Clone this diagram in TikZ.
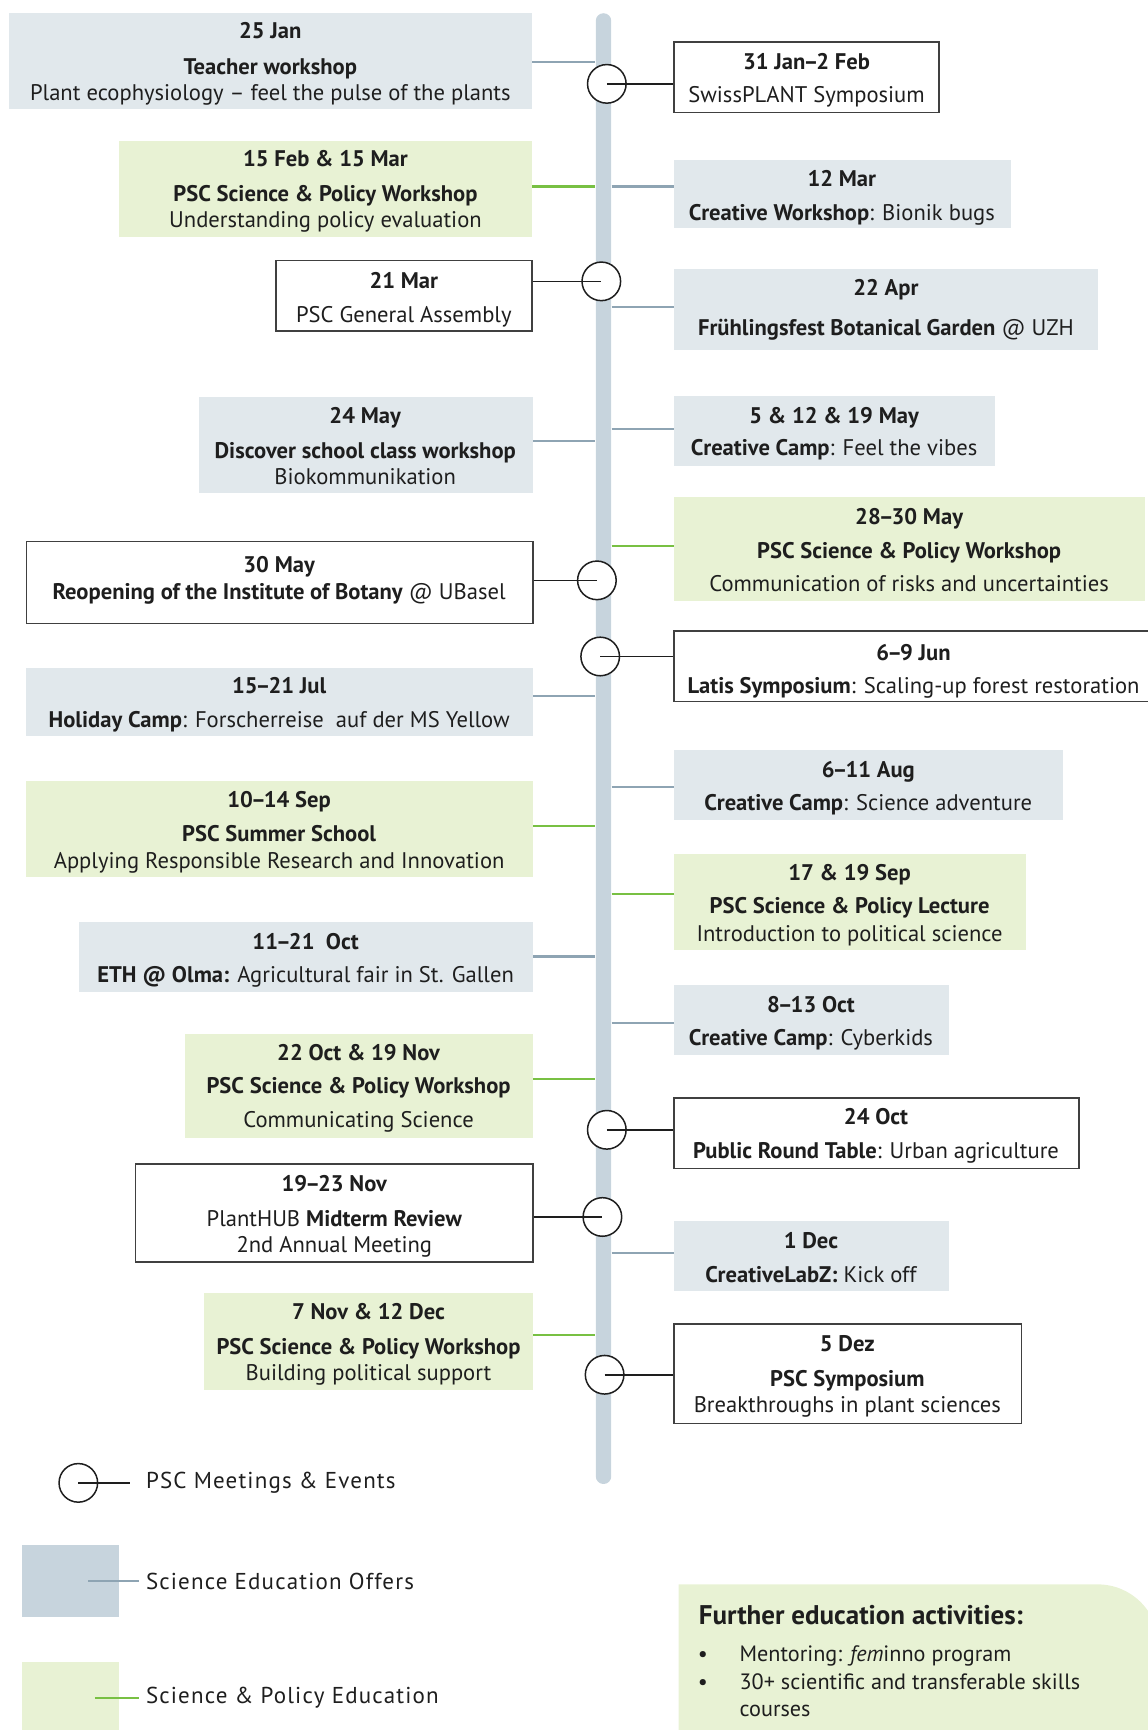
\documentclass[tikz,border=0pt]{standalone}
\usepackage{fontspec}
\setmainfont{PT Sans}
\usetikzlibrary{fit}
\definecolor{bfill}{HTML}{E1E8EC}
\definecolor{gfill}{HTML}{E8F2D4}
\definecolor{barc}{HTML}{C7D4DD}
\definecolor{bline}{HTML}{8EA4B3}
\definecolor{gline}{HTML}{78C043}
\definecolor{ink}{HTML}{1E1E1E}
\newcommand{\nd}{\kern-0.09em–\kern-0.09em}
\begin{document}
\begin{tikzpicture}[x=0.55192pt,y=-0.55192pt,
  bluebox/.style={fill=bfill, inner sep=0pt},
  greenbox/.style={fill=gfill, inner sep=0pt},
  whitebox/.style={draw=ink!85, line width=0.75pt, fill=white, inner sep=0pt},
  tl/.style={anchor=base, yshift=-4pt, inner sep=0pt, text=ink, font=\fontsize{11.3}{13}\selectfont},
  tb/.style={tl, font=\fontsize{11.3}{13}\selectfont\bfseries},
  ev/.style={circle, draw=ink, line width=0.75pt, fill=white, minimum size=19.3pt, inner sep=0pt},
  kline/.style={draw=ink, line width=0.8pt},
  bl/.style={draw=bline, line width=1.1pt},
  gl/.style={draw=gline, line width=1.1pt},
  legtxt/.style={anchor=west, inner sep=0pt, text=ink, font=\fontsize{11.5}{14}\selectfont\addfontfeature{LetterSpace=5}},
  ftxt/.style={anchor=base west, inner sep=0pt, text=ink, font=\fontsize{11.1}{13}\selectfont}
]
\useasboundingbox (0,0) rectangle (1040,1568);

% timeline bar
\node[fit={(540,12) (554,1345)}, fill=barc, rounded corners=3.8pt, inner sep=0pt] (bar) {};

% ---------- left boxes ----------
\node[bluebox, fit={(8,12) (482,99)}] (b1) {};
\node[tb] (b1a) at (245,28) {25 Jan};
\node[tb] (b1b) at (245,60) {Teacher workshop};
\node[tl] (b1c) at (245,84) {Plant ecophysiology – feel the pulse of the plants};
\draw[bl] (b1.east |- 0,56) -- (bar.west |- 0,56);

\node[greenbox, fit={(108,128) (482,215)}] (b2) {};
\node[tb] (b2a) at (295,144) {15 Feb \& 15 Mar};
\node[tb] (b2b) at (295,175) {PSC Science \& Policy Workshop};
\node[tl] (b2c) at (295,199) {Understanding policy evaluation};
\draw[gl] (b2.east |- 0,169) -- (bar.west |- 0,169);

\node[whitebox, fit={(250,236) (482,300)}] (b3) {};
\node[tb] (b3a) at (366,254) {21 Mar};
\node[tl] (b3b) at (366,285) {PSC General Assembly};

\node[bluebox, fit={(180,360) (483,447)}] (b7) {};
\node[tb] (b7a) at (331,377) {24 May};
\node[tb] (b7b) at (331,408) {Discover school class workshop};
\node[tl] (b7c) at (331,432) {Biokommunikation};
\draw[bl] (b7.east |- 0,400) -- (bar.west |- 0,400);

\node[whitebox, fit={(24,491) (483,565)}] (b10) {};
\node[tb] (b10a) at (253,512) {30 May};
\node[tl] (b10b) at (253,536) {\textbf{Reopening of the Institute of Botany} @ UBasel};

\node[bluebox, fit={(24,605) (483,667)}] (b12) {};
\node[tb] (b12a) at (253,621) {15\nd21 Jul};
\node[tl] (b12b) at (253,652) {\textbf{Holiday Camp}: Forscherreise\ \ auf der MS Yellow};
\draw[bl] (b12.east |- 0,631) -- (bar.west |- 0,631);

\node[greenbox, fit={(24,708) (483,795)}] (b14) {};
\node[tb] (b14a) at (253,725) {10\nd14 Sep};
\node[tb] (b14b) at (253,755) {PSC Summer School};
\node[tl] (b14c) at (253,780) {Applying Responsible Research and Innovation};
\draw[gl] (b14.east |- 0,749) -- (bar.west |- 0,749);

\node[bluebox, fit={(72,836) (483,899)}] (b16) {};
\node[tb] (b16a) at (277,853) {11\nd21\ \ Oct};
\node[tl] (b16b) at (277,883) {\textbf{ETH @ Olma:} Agricultural fair in St. Gallen};
\draw[bl] (b16.east |- 0,867) -- (bar.west |- 0,867);

\node[greenbox, fit={(168,937) (483,1031)}] (b18) {};
\node[tb] (b18a) at (325,954) {22 Oct \& 19 Nov};
\node[tb] (b18b) at (325,984) {PSC Science \& Policy Workshop};
\node[tl] (b18c) at (325,1015) {Communicating Science};
\draw[gl] (b18.east |- 0,978) -- (bar.west |- 0,978);

\node[whitebox, fit={(123,1055) (483,1144)}] (b20) {};
\node[tb] (b20a) at (303,1073) {19\nd23 Nov};
\node[tl] (b20b) at (303,1104) {PlantHUB \textbf{Midterm Review}};
\node[tl] (b20c) at (303,1128) {2nd Annual Meeting};

\node[greenbox, fit={(185,1172) (483,1260)}] (b22) {};
\node[tb] (b22a) at (334,1189) {7 Nov \& 12 Dec};
\node[tb] (b22b) at (334,1220) {PSC Science \& Policy Workshop};
\node[tl] (b22c) at (334,1244) {Building political support};
\draw[gl] (b22.east |- 0,1210) -- (bar.west |- 0,1210);

% ---------- right boxes ----------
\node[whitebox, fit={(611,38) (851,102)}] (b4) {};
\node[tb] (b4a) at (731,56) {31 Jan\nd2 Feb};
\node[tl] (b4b) at (731,86) {SwissPLANT Symposium};

\node[bluebox, fit={(611,145) (916,207)}] (b5) {};
\node[tb] (b5a) at (763,162) {12 Mar};
\node[tl] (b5b) at (763,193) {\textbf{Creative Workshop}: Bionik bugs};
\draw[bl] (bar.east |- 0,169) -- (b5.west |- 0,169);

\node[bluebox, fit={(611,244) (995,317)}] (b6) {};
\node[tb] (b6a) at (803,261) {22 Apr};
\node[tl] (b6b) at (803,297) {\textbf{Frühlingsfest Botanical Garden} @ UZH};
\draw[bl] (bar.east |- 0,278) -- (b6.west |- 0,278);

\node[bluebox, fit={(611,359) (902,422)}] (b8) {};
\node[tb] (b8a) at (756,377) {5 \& 12 \& 19 May};
\node[tl] (b8b) at (756,406) {\textbf{Creative Camp}: Feel the vibes};
\draw[bl] (bar.east |- 0,389) -- (b8.west |- 0,389);

\node[greenbox, fit={(611,450) (1038,545)}] (b9) {};
\node[tb] (b9a) at (824,468) {28\nd30 May};
\node[tb] (b9b) at (824,499) {PSC Science \& Policy Workshop};
\node[tl] (b9c) at (824,529) {Communication of risks and uncertainties};
\draw[gl] (bar.east |- 0,495) -- (b9.west |- 0,495);

\node[whitebox, fit={(611,572) (1046,636)}] (b11) {};
\node[tb] (b11a) at (828,591) {6\nd9 Jun};
\node[tl] (b11b) at (828,621) {\textbf{Latis Symposium}: Scaling-up forest restoration};

\node[bluebox, fit={(611,680) (963,743)}] (b13) {};
\node[tb] (b13a) at (787,697) {6\nd11 Aug};
\node[tl] (b13b) at (787,727) {\textbf{Creative Camp}: Science adventure};
\draw[bl] (bar.east |- 0,713) -- (b13.west |- 0,713);

\node[greenbox, fit={(611,774) (930,861)}] (b15) {};
\node[tb] (b15a) at (770,791) {17 \& 19 Sep};
\node[tb] (b15b) at (770,821) {PSC Science \& Policy Lecture};
\node[tl] (b15c) at (770,846) {Introduction to political science};
\draw[gl] (bar.east |- 0,810) -- (b15.west |- 0,810);

\node[bluebox, fit={(611,893) (860,956)}] (b17) {};
\node[tb] (b17a) at (735,910) {8\nd13 Oct};
\node[tl] (b17b) at (735,940) {\textbf{Creative Camp}: Cyberkids};
\draw[bl] (bar.east |- 0,927) -- (b17.west |- 0,927);

\node[whitebox, fit={(611,995) (978,1059)}] (b19) {};
\node[tb] (b19a) at (794,1012) {24 Oct};
\node[tl] (b19b) at (794,1043) {\textbf{Public Round Table}: Urban agriculture};

\node[bluebox, fit={(611,1107) (860,1170)}] (b21) {};
\node[tb] (b21a) at (735,1124) {1 Dec};
\node[tl] (b21b) at (735,1155) {\textbf{CreativeLabZ:} Kick off};
\draw[bl] (bar.east |- 0,1136) -- (b21.west |- 0,1136);

\node[whitebox, fit={(611,1200) (926,1290)}] (b23) {};
\node[tb] (b23a) at (768,1218) {5 Dez};
\node[tb] (b23b) at (768,1249) {PSC Symposium};
\node[tl] (b23c) at (768,1273) {Breakthroughs in plant sciences};

% ---------- event circles ----------
\node[ev] (c1) at (550,76) {};
\draw[kline] (c1.center) -- (b4.west |- c1.center);
\node[ev] (c3) at (545,255) {};
\draw[kline] (b3.east |- c3.center) -- (c3.center);
\node[ev] (c10) at (541,526) {};
\draw[kline] (b10.east |- c10.center) -- (c10.center);
\node[ev] (c11) at (544,595) {};
\draw[kline] (c11.center) -- (b11.west |- c11.center);
\node[ev] (c19) at (550,1024) {};
\draw[kline] (c19.center) -- (b19.west |- c19.center);
\node[ev] (c20) at (546,1103) {};
\draw[kline] (b20.east |- c20.center) -- (c20.center);
\node[ev] (c23) at (548,1246) {};
\draw[kline] (c23.center) -- (b23.west |- c23.center);

% ---------- legend ----------
\node[ev] (lc) at (71,1344) {};
\node[legtxt] (lt1) at (132,1344) {PSC Meetings \& Events};
\draw[kline, shorten >=14*0.55192pt] (lc.center) -- (lt1.west);

\node[fill=barc, inner sep=0pt, fit={(20,1400) (108,1466)}] (lsb) {};
\coordinate (lb0) at (80,1433);
\node[legtxt] (lt2) at (132,1433) {Science Education Offers};
\draw[bl, shorten >=6*0.55192pt] (lb0) -- (lt2.west |- lb0);

\node[fill=gfill, inner sep=0pt, fit={(20,1506) (108,1575)}] (lsg) {};
\coordinate (lg0) at (86,1539);
\node[legtxt] (lt3) at (132,1539) {Science \& Policy Education};
\draw[gl, shorten >=6*0.55192pt] (lg0) -- (lt3.west |- lg0);

% ---------- further education box ----------
\fill[gfill] (615,1436) -- (995,1436) arc[start angle=90, end angle=0, radius=30.4pt] -- (1050,1580) -- (615,1580) -- cycle;
\node[anchor=base west, inner sep=0pt, text=ink, font=\fontsize{13.5}{15}\selectfont\bfseries] (ft) at (633,1472) {Further education activities:};
\node[ftxt, anchor=base] (fb1) at (637,1506) {•};
\node[ftxt] (fi1) at (670,1506) {Mentoring: \textit{fem}inno program};
\node[ftxt, anchor=base] (fb2) at (637,1531) {•};
\node[ftxt] (fi2) at (670,1531) {30+ scientific and transferable skills};
\node[ftxt] (fi3) at (670,1556) {courses};
\end{tikzpicture}
\end{document}
